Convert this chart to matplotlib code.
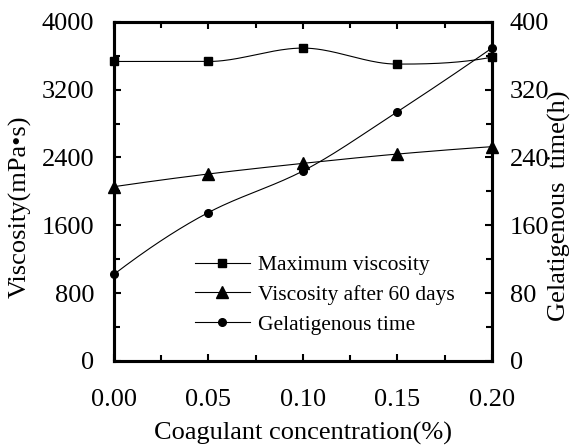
import numpy as np
import matplotlib
matplotlib.use("Agg")
import matplotlib.pyplot as plt
from matplotlib.ticker import MultipleLocator

plt.rcParams['font.family'] = ['Liberation Serif', 'DejaVu Serif']

# data
conc = [0.0, 0.05, 0.10, 0.15, 0.20]
max_visc = [3532, 3532, 3690, 3501, 3583]
visc_60d = [2055, 2205, 2330, 2440, 2527]
gel_time = [102, 175, 224, 294, 369]


def smooth(x, y, n=40):
    # monotone cubic (pchip) through the points, for the smoothed lines
    x = np.asarray(x, float)
    y = np.asarray(y, float)
    h = np.diff(x)
    dl = np.diff(y) / h
    d = np.zeros_like(y)
    for k in range(1, len(x) - 1):
        if dl[k - 1] * dl[k] > 0:
            w1 = 2 * h[k] + h[k - 1]
            w2 = h[k] + 2 * h[k - 1]
            d[k] = (w1 + w2) / (w1 / dl[k - 1] + w2 / dl[k])
    for i, (a, b, ha, hb) in ((0, (dl[0], dl[1], h[0], h[1])), (-1, (dl[-1], dl[-2], h[-1], h[-2]))):
        e = ((2 * ha + hb) * a - ha * b) / (ha + hb)
        if np.sign(e) != np.sign(a):
            e = 0.0
        elif np.sign(a) != np.sign(b) and abs(e) > 3 * abs(a):
            e = 3 * a
        d[i] = e
    t = np.linspace(0, 1, n)
    xs, ys = [], []
    for k in range(len(x) - 1):
        h00 = 2 * t ** 3 - 3 * t ** 2 + 1
        h10 = t ** 3 - 2 * t ** 2 + t
        h01 = -2 * t ** 3 + 3 * t ** 2
        h11 = t ** 3 - t ** 2
        xs.append(x[k] + t * h[k])
        ys.append(h00 * y[k] + h10 * h[k] * d[k] + h01 * y[k + 1] + h11 * h[k] * d[k + 1])
    return np.concatenate(xs), np.concatenate(ys)


fig = plt.figure(figsize=(5.72, 4.45), dpi=100)
ax = fig.add_axes([0.199, 0.189, 0.661, 0.762])
ax2 = ax.twinx()

lw = 0.8
sx, sy = smooth(conc, max_visc)
ax.plot(sx, sy, color='black', lw=lw, clip_on=False)
ax.plot(conc, max_visc, 's', color='black', ms=6, clip_on=False, zorder=5)
sx, sy = smooth(conc, visc_60d)
ax.plot(sx, sy, color='black', lw=lw, clip_on=False)
ax.plot(conc, visc_60d, '^', color='black', ms=9, clip_on=False, zorder=5)
sx, sy = smooth(conc, gel_time)
ax2.plot(sx, sy, color='black', lw=lw, clip_on=False)
ax2.plot(conc, gel_time, 'o', color='black', ms=5.5, clip_on=False, zorder=5)

# legend built from proxy handles
h1, = ax.plot([], [], '-s', color='black', lw=lw, ms=6)
h2, = ax.plot([], [], '-^', color='black', lw=lw, ms=9)
h3, = ax.plot([], [], '-o', color='black', lw=lw, ms=5.5)
ax.legend([h1, h2, h3], ['Maximum viscosity', 'Viscosity after 60 days', 'Gelatigenous time'],
          loc='center left', bbox_to_anchor=(0.214, 0.195), frameon=False, fontsize=15.5,
          handlelength=2.55, handletextpad=0.37, labelspacing=0.45, borderpad=0, borderaxespad=0)

ax.set_xlim(0, 0.2)
ax.set_ylim(0, 4000)
ax2.set_ylim(0, 400)

ax.xaxis.set_major_locator(MultipleLocator(0.05))
ax.xaxis.set_minor_locator(MultipleLocator(0.025))
ax.yaxis.set_major_locator(MultipleLocator(800))
ax.yaxis.set_minor_locator(MultipleLocator(400))
ax2.yaxis.set_major_locator(MultipleLocator(80))
ax2.yaxis.set_minor_locator(MultipleLocator(40))
ax.xaxis.set_major_formatter(lambda v, p: f"{v:.2f}")

ax.tick_params(axis='x', which='both', direction='in', top=True, labelsize=19, pad=20)
ax.tick_params(axis='y', which='both', direction='in', right=False, labelsize=19, pad=14)
ax2.tick_params(axis='y', which='both', direction='in', labelsize=19, pad=13)
for a in (ax, ax2):
    a.tick_params(which='major', length=5, width=1.5)
    a.tick_params(which='minor', length=4.5, width=1.5)
    for s in a.spines.values():
        s.set_linewidth(2.2)

ax.set_xlabel('Coagulant concentration(%)', fontsize=19, va='center')
ax.xaxis.set_label_coords(0.5, -0.215)
ax.set_ylabel('Viscosity(mPa•s)', fontsize=19, va='center', ha='center')
ax.yaxis.set_label_coords(-0.249, 0.454)
ax2.set_ylabel('Gelatigenous  time(h)', fontsize=19, va='center', ha='center')
ax2.yaxis.set_label_coords(1.178, 0.457)

fig.savefig('out.png', dpi=100)
